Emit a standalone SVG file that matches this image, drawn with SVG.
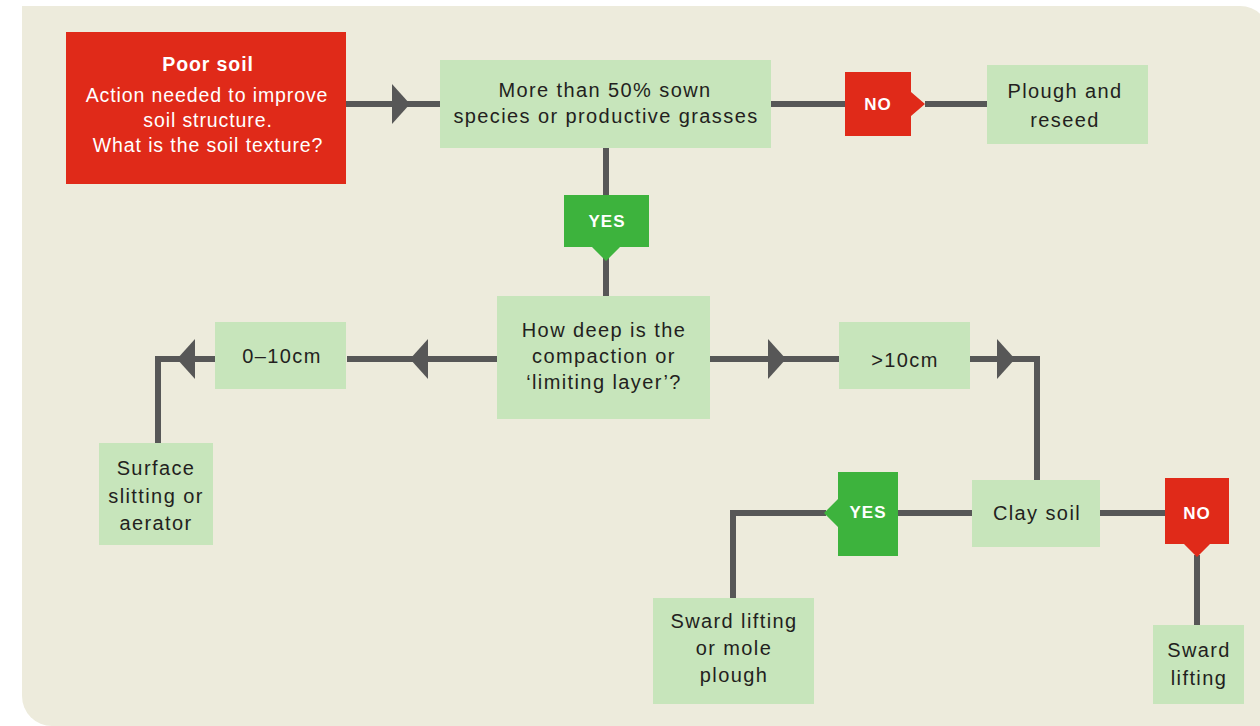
<svg xmlns="http://www.w3.org/2000/svg" width="1260" height="726" viewBox="0 0 1260 726">
  <style>
    .panel { fill: #EDEBDC; }
    .box { fill: #C7E5BB; }
    .red { fill: #E02A19; }
    .grn { fill: #3DB33D; }
    .conn { fill: none; stroke: #575757; stroke-width: 6; stroke-linejoin: miter; }
    .head { fill: #575757; }
    .t { font-family: "Liberation Sans", Arial, sans-serif; font-size: 20px; letter-spacing: 1.4px; fill: #231F20; text-anchor: middle; }
    .w { font-family: "Liberation Sans", Arial, sans-serif; font-size: 19.5px; letter-spacing: 0.9px; fill: #FFFFFF; text-anchor: middle; }
    .lb { font-family: "Liberation Sans", Arial, sans-serif; font-size: 17px; font-weight: bold; letter-spacing: 1px; fill: #FFFFFF; text-anchor: middle; }
  </style>
  <rect width="1260" height="726" fill="#FFFFFF"/>
  <path class="panel" d="M22,6 H1240 A30,30 0 0 1 1270,36 V726 H52 A30,30 0 0 1 22,696 Z"/>

  <g id="connectors">
    <line class="conn" x1="346" y1="104" x2="440" y2="104"/>
    <polygon class="head" points="392,84 410,104 392,124"/>
    <line class="conn" x1="771" y1="104" x2="845" y2="104"/>
    <line class="conn" x1="925" y1="104" x2="987" y2="104"/>
    <line class="conn" x1="606" y1="148" x2="606" y2="196"/>
    <line class="conn" x1="606" y1="258" x2="606" y2="296"/>
    <line class="conn" x1="497" y1="359" x2="347" y2="359"/>
    <polygon class="head" points="428,339 410,359 428,379"/>
    <path class="conn" d="M216,359 H158 V443"/>
    <polygon class="head" points="195,339 177,359 195,379"/>
    <line class="conn" x1="710" y1="359" x2="839" y2="359"/>
    <polygon class="head" points="768,339 786,359 768,379"/>
    <path class="conn" d="M969,359 H1037 V480"/>
    <polygon class="head" points="997,339 1015,359 997,379"/>
    <line class="conn" x1="898" y1="513" x2="972" y2="513"/>
    <path class="conn" d="M826,513 H733 V598"/>
    <line class="conn" x1="1100" y1="513" x2="1165" y2="513"/>
    <line class="conn" x1="1197" y1="555" x2="1197" y2="625"/>
  </g>

  <g id="label-no-top">
    <path class="red" d="M845,72 H911 V92 L925,104 L911,116 V136 H845 Z"/>
    <text class="lb" x="878" y="110">NO</text>
  </g>
  <g id="label-yes-top">
    <path class="grn" d="M564,195 H649 V247 H620 L606,261 L592,247 H564 Z"/>
    <text class="lb" x="607" y="227">YES</text>
  </g>
  <g id="label-yes-clay">
    <path class="grn" d="M838,472 H898 V556 H838 V527 L824,513 L838,499 Z"/>
    <text class="lb" x="868" y="518">YES</text>
  </g>
  <g id="label-no-clay">
    <path class="red" d="M1165,478 H1229 V544 H1210 L1197,557 L1184,544 H1165 Z"/>
    <text class="lb" x="1197" y="519">NO</text>
  </g>

  <g id="poor-soil">
    <rect class="red" x="66" y="32" width="280" height="152"/>
    <text class="w" x="208" y="71" font-weight="bold">Poor soil</text>
    <text class="w" x="207" y="102">Action needed to improve</text>
    <text class="w" x="208" y="127">soil structure.</text>
    <text class="w" x="208" y="152">What is the soil texture?</text>
  </g>
  <g id="sown-species">
    <rect class="box" x="440" y="60" width="331" height="88"/>
    <text class="t" x="605" y="97">More than 50% sown</text>
    <text class="t" x="606" y="123">species or productive grasses</text>
  </g>
  <g id="plough-reseed">
    <rect class="box" x="987" y="65" width="161" height="79"/>
    <text class="t" x="1065" y="98">Plough and</text>
    <text class="t" x="1065" y="127">reseed</text>
  </g>
  <g id="how-deep">
    <rect class="box" x="497" y="296" width="213" height="123"/>
    <text class="t" x="604" y="337">How deep is the</text>
    <text class="t" x="604" y="363">compaction or</text>
    <text class="t" x="604" y="389">‘limiting layer’?</text>
  </g>
  <g id="shallow">
    <rect class="box" x="215" y="322" width="131" height="67"/>
    <text class="t" x="282" y="363">0–10cm</text>
  </g>
  <g id="surface">
    <rect class="box" x="99" y="443" width="114" height="102"/>
    <text class="t" x="156" y="475">Surface</text>
    <text class="t" x="156" y="503">slitting or</text>
    <text class="t" x="156" y="530">aerator</text>
  </g>
  <g id="deep">
    <rect class="box" x="839" y="322" width="131" height="67"/>
    <text class="t" x="905" y="367">&gt;10cm</text>
  </g>
  <g id="clay-soil">
    <rect class="box" x="972" y="480" width="128" height="67"/>
    <text class="t" x="1037" y="520">Clay soil</text>
  </g>
  <g id="sward-mole">
    <rect class="box" x="653" y="598" width="161" height="106"/>
    <text class="t" x="734" y="628">Sward lifting</text>
    <text class="t" x="734" y="655">or mole</text>
    <text class="t" x="734" y="682">plough</text>
  </g>
  <g id="sward-lifting">
    <rect class="box" x="1153" y="625" width="91" height="79"/>
    <text class="t" x="1199" y="657">Sward</text>
    <text class="t" x="1199" y="685">lifting</text>
  </g>
</svg>
